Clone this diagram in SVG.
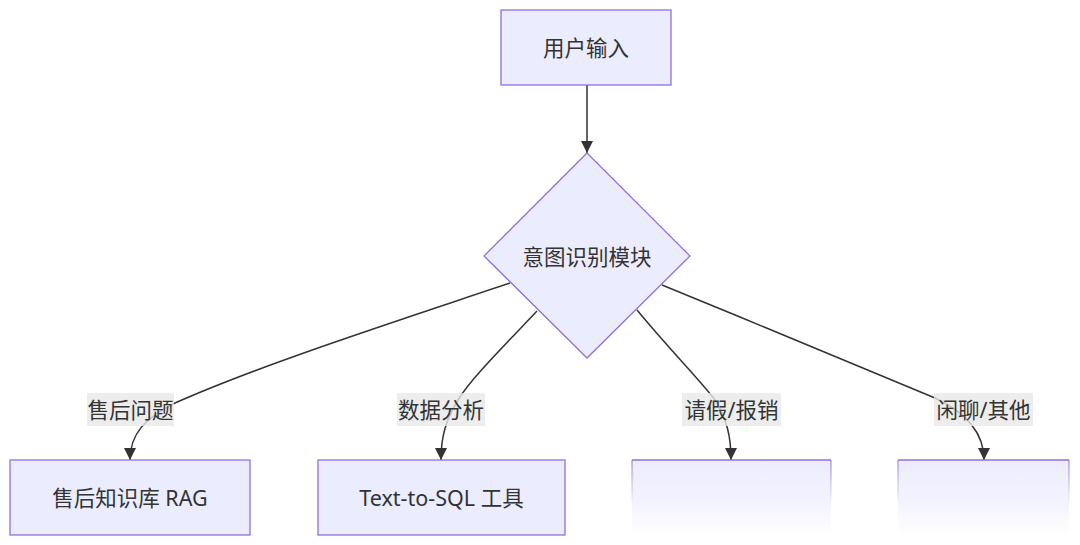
<svg xmlns="http://www.w3.org/2000/svg" width="1080" height="545" viewBox="0 0 1080 545">
  <style>
    .node { fill: #ECECFF; stroke: #9370DB; stroke-width: 1.3; }
    .txt { font-family: "Noto Sans", "Noto Sans CJK SC", sans-serif; font-size: 21.5px; fill: #333; text-anchor: middle; dominant-baseline: central; }
    .edge { fill: none; stroke: #333; stroke-width: 1.5; }
    .lblbg { fill: #e8e8e8; opacity: 0.8; }
  </style>
  <defs>
    <marker id="arrow" viewBox="0 0 10 10" refX="10" refY="5" markerWidth="12" markerHeight="12" markerUnits="userSpaceOnUse" orient="auto">
      <path d="M0,0 L10,5 L0,10 z" fill="#333"/>
    </marker>
    <linearGradient id="fadeFill" x1="0" y1="460" x2="0" y2="535" gradientUnits="userSpaceOnUse">
      <stop offset="0" stop-color="#ECECFF"/>
      <stop offset="0.6" stop-color="#F4F4FF"/>
      <stop offset="1" stop-color="#FFFFFF"/>
    </linearGradient>
    <linearGradient id="fadeStroke" x1="0" y1="460" x2="0" y2="505" gradientUnits="userSpaceOnUse">
      <stop offset="0" stop-color="#9370DB" stop-opacity="0.8"/>
      <stop offset="1" stop-color="#9370DB" stop-opacity="0"/>
    </linearGradient>
  </defs>

  <g id="edges">
    <path class="edge" d="M587,85 L587,153" marker-end="url(#arrow)"/>
    <path class="edge" d="M510,283 C400,320 260,365 175,403 C145,418 130,434 130,460" marker-end="url(#arrow)"/>
    <path class="edge" d="M537,311 C500,350 470,380 458,400 C446,420 441,436 441,460" marker-end="url(#arrow)"/>
    <path class="edge" d="M637,310 C670,350 700,380 715,400 C727,420 731,436 731,460" marker-end="url(#arrow)"/>
    <path class="edge" d="M662,285 C760,325 880,375 935,398 C965,412 984,432 984,460" marker-end="url(#arrow)"/>
  </g>

  <g id="edge-labels">
    <g id="label-aftersales">
      <rect class="lblbg" x="87" y="393" width="87" height="33"/>
      <text class="txt" x="130.5" y="409">售后问题</text>
    </g>
    <g id="label-data">
      <rect class="lblbg" x="397" y="393" width="88" height="33"/>
      <text class="txt" x="441" y="409">数据分析</text>
    </g>
    <g id="label-leave">
      <rect class="lblbg" x="682" y="393" width="99" height="33"/>
      <text class="txt" x="731.5" y="409">请假/报销</text>
    </g>
    <g id="label-chat">
      <rect class="lblbg" x="934" y="393" width="99" height="33"/>
      <text class="txt" x="983.5" y="409">闲聊/其他</text>
    </g>
  </g>

  <g id="node-input">
    <rect class="node" x="501" y="10" width="170" height="75"/>
    <text class="txt" x="586" y="47">用户输入</text>
  </g>

  <g id="node-intent">
    <polygon class="node" points="587,153 690,256 587,358 484,256"/>
    <text class="txt" x="587" y="256">意图识别模块</text>
  </g>

  <g id="node-rag">
    <rect class="node" x="10" y="460" width="240" height="75"/>
    <text class="txt" x="130" y="497">售后知识库 RAG</text>
  </g>

  <g id="node-sql">
    <rect class="node" x="318" y="460" width="247" height="75"/>
    <text class="txt" x="441.5" y="497">Text-to-SQL 工具</text>
  </g>

  <g id="node-leave">
    <rect x="632" y="460" width="199" height="75" fill="url(#fadeFill)"/>
    <line x1="632" y1="460" x2="831" y2="460" stroke="#9370DB" stroke-width="1.3"/>
    <line x1="632" y1="460" x2="632" y2="505" stroke="url(#fadeStroke)" stroke-width="1.3"/>
    <line x1="831" y1="460" x2="831" y2="505" stroke="url(#fadeStroke)" stroke-width="1.3"/>
  </g>

  <g id="node-chat">
    <rect x="898" y="460" width="171" height="75" fill="url(#fadeFill)"/>
    <line x1="898" y1="460" x2="1069" y2="460" stroke="#9370DB" stroke-width="1.3"/>
    <line x1="898" y1="460" x2="898" y2="505" stroke="url(#fadeStroke)" stroke-width="1.3"/>
    <line x1="1069" y1="460" x2="1069" y2="505" stroke="url(#fadeStroke)" stroke-width="1.3"/>
  </g>
</svg>
